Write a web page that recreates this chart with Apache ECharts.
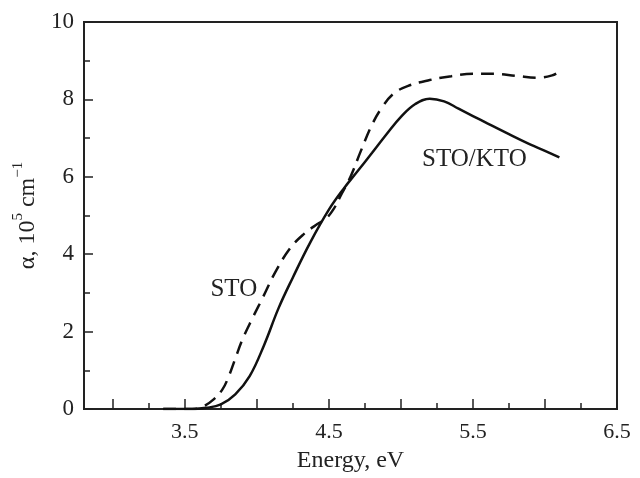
<!DOCTYPE html>
<html>
<head>
<meta charset="utf-8">
<script src="https://cdn.jsdelivr.net/npm/echarts@6/dist/echarts.min.js"></script>
<style>
html, body { margin: 0; padding: 0; background: #fff; }
#chart { width: 640px; height: 478px; }
</style>
</head>
<body>
<div id="chart"></div>
<script>
// absorption spectra, energy in eV, alpha in 1e5 cm^-1
var stoKtoEnergy = [3.35, 3.55, 3.65, 3.75, 3.85, 3.95, 4.05, 4.15, 4.25, 4.37, 4.5, 4.6, 4.7, 4.8, 4.9, 5.0, 5.1, 5.2, 5.3, 5.4, 5.5, 5.6, 5.75, 5.9, 6.0, 6.1];
var stoKtoAlpha  = [0, 0, 0.03, 0.12, 0.38, 0.85, 1.65, 2.6, 3.4, 4.3, 5.15, 5.68, 6.15, 6.62, 7.1, 7.55, 7.88, 8.02, 7.95, 7.76, 7.57, 7.38, 7.1, 6.83, 6.67, 6.5];

var stoEnergy = [3.35, 3.55, 3.62, 3.7, 3.76, 3.8, 3.85, 3.9, 3.97, 4.04, 4.13, 4.23, 4.32, 4.42, 4.48, 4.53, 4.58, 4.65, 4.72, 4.8, 4.87, 4.95, 5.05, 5.2, 5.35, 5.5, 5.65, 5.8, 5.95, 6.05, 6.1];
var stoAlpha  = [0, 0, 0.05, 0.25, 0.5, 0.8, 1.3, 1.8, 2.35, 2.87, 3.55, 4.15, 4.5, 4.78, 4.92, 5.15, 5.5, 6.0, 6.65, 7.35, 7.8, 8.15, 8.35, 8.5, 8.6, 8.66, 8.66, 8.61, 8.56, 8.62, 8.72];

var xLabelTicks = [3.5, 4.5, 5.5, 6.5];
var xMajorTicks = [3.0, 3.5, 4.0, 4.5, 5.0, 5.5, 6.0, 6.5];
var xMinorTicks = [3.25, 3.75, 4.25, 4.75, 5.25, 5.75, 6.25];

function pairs(xs, ys) {
    var out = [];
    for (var i = 0; i < xs.length; i++) out.push([xs[i], ys[i]]);
    return out;
}

var ink = '#222';
var font = '"Liberation Serif", "Times New Roman", serif';

var chart = echarts.init(document.getElementById('chart'), null, {renderer: 'canvas'});
var option = {
    animation: false,
    backgroundColor: '#fff',
    grid: {
        left: 84, right: 23, top: 22, bottom: 66,
        show: true, borderColor: ink, borderWidth: 2
    },
    xAxis: [
        {
            type: 'value', min: 2.8, max: 6.5,
            name: 'Energy, eV', nameLocation: 'middle', nameGap: 40,
            nameTextStyle: {fontFamily: font, fontSize: 24, color: ink},
            axisLine: {lineStyle: {color: ink, width: 2}},
            axisTick: {inside: true, length: 10, customValues: xMajorTicks, lineStyle: {color: ink, width: 1.5}},
            axisLabel: {customValues: xLabelTicks, margin: 12, fontFamily: font, fontSize: 22, color: ink},
            splitLine: {show: false}
        },
        {
            type: 'value', min: 2.8, max: 6.5, position: 'bottom',
            axisLine: {show: false},
            axisTick: {inside: true, length: 6, customValues: xMinorTicks, lineStyle: {color: ink, width: 1.5}},
            axisLabel: {show: false},
            splitLine: {show: false}
        }
    ],
    yAxis: {
        type: 'value', min: 0, max: 10, interval: 2,
        name: '{m|α, 10}{s|5}{m| cm}{s|−1}', nameLocation: 'middle', nameRotate: 90, nameGap: 42,
        nameTextStyle: {
            fontFamily: font, color: ink,
            rich: {
                m: {fontFamily: font, fontSize: 24, color: ink, lineHeight: 30, verticalAlign: 'bottom'},
                s: {fontFamily: font, fontSize: 15, color: ink, lineHeight: 30, verticalAlign: 'top'}
            }
        },
        axisLine: {lineStyle: {color: ink, width: 2}},
        axisTick: {inside: true, length: 9, lineStyle: {color: ink, width: 1.5}},
        minorTick: {show: true, splitNumber: 2, length: 6, lineStyle: {color: ink, width: 1.5}},
        axisLabel: {margin: 10, fontFamily: font, fontSize: 23, color: ink},
        splitLine: {show: false}
    },
    series: [
        {
            type: 'line', name: 'STO/KTO', xAxisIndex: 0,
            data: pairs(stoKtoEnergy, stoKtoAlpha),
            smooth: 0.4, showSymbol: false,
            lineStyle: {color: '#111', width: 2.5},
            markPoint: {
                symbol: 'circle', symbolSize: 0,
                label: {show: true, formatter: 'STO/KTO', fontFamily: font, fontSize: 25, color: ink},
                data: [{coord: [5.51, 6.46]}]
            }
        },
        {
            type: 'line', name: 'STO', xAxisIndex: 0,
            data: pairs(stoEnergy, stoAlpha),
            smooth: 0.4, showSymbol: false,
            lineStyle: {color: '#111', width: 2.5, type: [13, 8]},
            markPoint: {
                symbol: 'circle', symbolSize: 0,
                label: {show: true, formatter: 'STO', fontFamily: font, fontSize: 25, color: ink},
                data: [{coord: [3.84, 3.08]}]
            }
        }
    ]
};
chart.setOption(option);
</script>
</body>
</html>
